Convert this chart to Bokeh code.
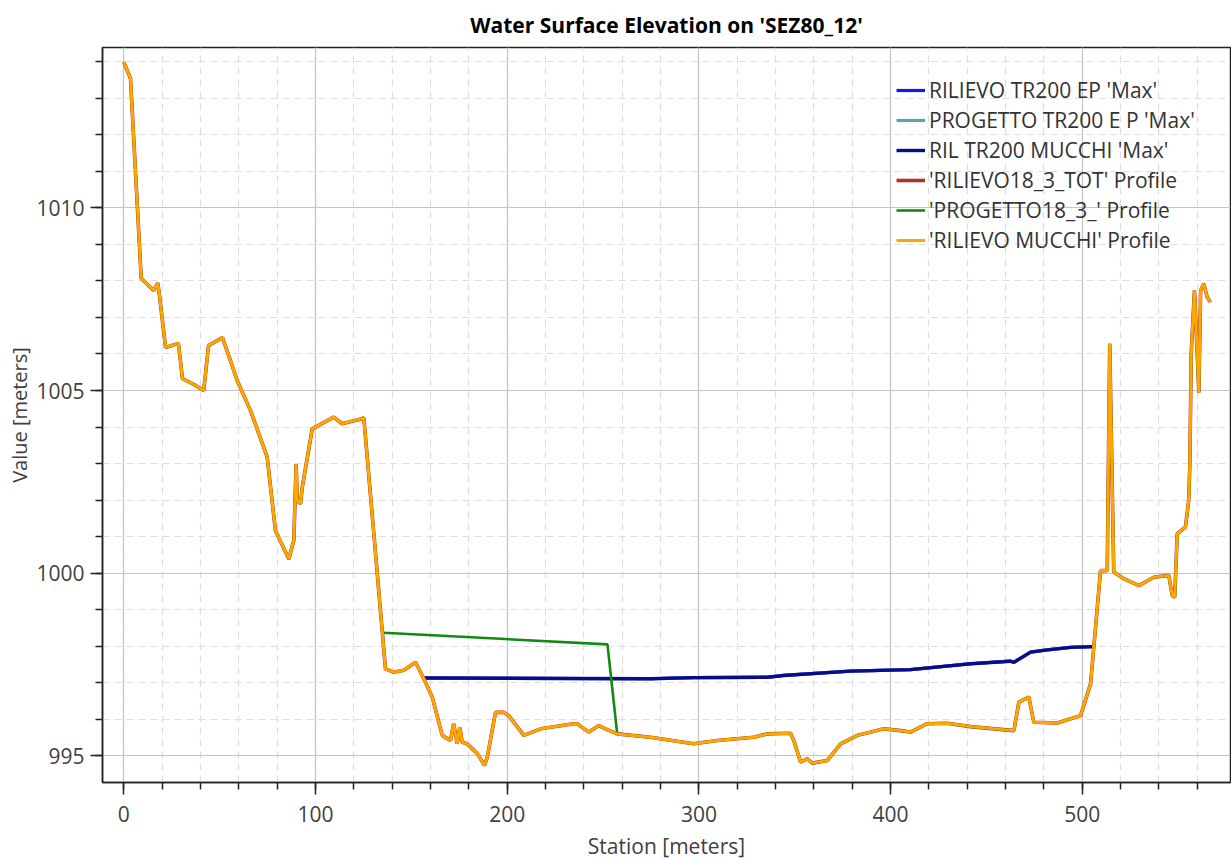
from bokeh.plotting import figure
from bokeh.models import (Range1d, SingleIntervalTicker, Legend, LegendItem, Title)
from bokeh.embed import file_html
from bokeh.resources import INLINE

# Ground profile surveyed at section SEZ80_12 (station m, elevation m)
ground_station = [0.0, 3.5, 9.1, 15.6, 17.7, 18.3, 21.8, 28.5, 30.6, 37.4,
                  41.7, 44.2, 51.5, 59.2, 66.1, 74.8, 79.1, 86.1, 88.7, 89.9,
                  90.5, 92.2, 93.1, 98.3, 109.5, 113.9, 124.4, 125.2, 134.8, 136.5,
                  140.8, 146.1, 152.2, 156.5, 160.9, 166.1, 170.4, 172.1, 173.9, 175.3,
                  176.5, 179.1, 184.4, 188.2, 189.6, 193.9, 198.2, 200.8, 208.7, 217.4,
                  234.7, 236.5, 242.6, 247.8, 251.3, 257.4, 274.7, 297.3, 309.5, 328.6,
                  335.6, 347.8, 349.5, 353.0, 356.5, 359.1, 366.9, 373.9, 382.6, 396.5,
                  405.2, 410.4, 419.1, 429.5, 441.7, 464.3, 466.9, 472.1, 474.7, 486.9,
                  499.1, 504.3, 509.5, 513.0, 514.3, 516.4, 521.6, 529.5, 537.3, 545.1,
                  546.9, 548.2, 549.5, 553.8, 555.5, 556.1, 556.8, 558.5, 560.8, 561.7,
                  563.4, 565.1, 566.8]
ground_elev = [1013.99, 1013.54, 1008.07, 1007.74, 1007.94, 1007.74, 1006.18, 1006.29, 1005.33, 1005.14,
               1005.00, 1006.23, 1006.45, 1005.27, 1004.45, 1003.18, 1001.17, 1000.39, 1000.90, 1002.99,
               1001.99, 1001.90, 1002.35, 1003.95, 1004.27, 1004.09, 1004.23, 1004.26, 998.43, 997.38,
               997.29, 997.34, 997.56, 997.11, 996.61, 995.56, 995.42, 995.88, 995.33, 995.78,
               995.37, 995.33, 995.06, 994.74, 994.96, 996.19, 996.19, 996.10, 995.56, 995.74,
               995.88, 995.88, 995.65, 995.83, 995.74, 995.60, 995.51, 995.33, 995.42, 995.51,
               995.60, 995.62, 995.42, 994.83, 994.92, 994.80, 994.87, 995.33, 995.56, 995.74,
               995.69, 995.65, 995.88, 995.89, 995.80, 995.69, 996.47, 996.61, 995.92, 995.90,
               996.10, 996.97, 1000.07, 1000.07, 1006.28, 1000.03, 999.85, 999.66, 999.89, 999.94,
               999.39, 999.34, 1001.08, 1001.26, 1001.99, 1002.99, 1006.01, 1007.74, 1004.95, 1007.74,
               1007.92, 1007.56, 1007.42]

# Design profile: differs from the survey only between the bank crest and the channel toe
design_from_station = 134.8
design_to_station = 257.4
design_fill_station = [135.6, 252.3]
design_fill_elev = [998.37, 998.05]

# Maximum water surface, TR200 event (the three runs coincide at this section)
ws_station = [156.5, 274.7, 297.3, 335.6, 344.3, 379.0, 410.4, 441.7, 462.5, 464.3,
              473.0, 481.7, 493.9, 505.2]
ws_elev = [997.13, 997.11, 997.14, 997.15, 997.20, 997.32, 997.36, 997.52, 997.59, 997.56,
           997.84, 997.90, 997.97, 997.99]

series_labels = ["RILIEVO TR200 EP 'Max'", "PROGETTO TR200 E P 'Max'", "RIL TR200 MUCCHI 'Max'",
                 "'RILIEVO18_3_TOT' Profile", "'PROGETTO18_3_' Profile", "'RILIEVO MUCCHI' Profile"]
series_colors = ["#1414F5", "#5FA3A3", "#0A0A8C", "#B0302E", "#118A11", "#FFA500"]

# Build the design profile by splicing the fill into the surveyed ground
design_station, design_elev = [], []
for s, z in zip(ground_station, ground_elev):
    if s <= design_from_station:
        design_station.append(s)
        design_elev.append(z)
design_station += design_fill_station
design_elev += design_fill_elev
for s, z in zip(ground_station, ground_elev):
    if s >= design_to_station:
        design_station.append(s)
        design_elev.append(z)

FONT = "Open Sans"
TXT = "#404040"

p = figure(width=1231, height=859, frame_width=1128, frame_height=735,
           min_border_left=102, min_border_right=1, min_border_top=47, min_border_bottom=77,
           output_backend="svg", toolbar_location=None,
           x_range=Range1d(-11.1, 577.3), y_range=Range1d(994.27, 1014.39))
p.background_fill_color = "white"
p.border_fill_color = "white"
p.outline_line_color = "#222222"
p.outline_line_width = 1.5

title = Title(text="Water Surface Elevation on 'SEZ80_12'", align="center",
              text_font=FONT, text_font_size="21px", text_font_style="bold",
              text_color="black", offset=0, standoff=17)
p.add_layout(title, "above")

p.xaxis.ticker = SingleIntervalTicker(interval=100, num_minor_ticks=5)
p.yaxis.ticker = SingleIntervalTicker(interval=5, num_minor_ticks=5)
for ax in (p.xaxis, p.yaxis):
    ax.axis_line_color = "#222222"
    ax.axis_line_width = 1.5
    ax.major_tick_line_color = "#222222"
    ax.major_tick_line_width = 1.5
    ax.minor_tick_line_color = "#222222"
    ax.minor_tick_line_width = 1.5
    ax.major_tick_out = 12
    ax.major_tick_in = 0
    ax.minor_tick_out = 7
    ax.minor_tick_in = 0
    ax.major_label_text_font = FONT
    ax.major_label_text_font_size = "21px"
    ax.major_label_text_color = TXT
    ax.axis_label_text_font = FONT
    ax.axis_label_text_font_size = "21px"
    ax.axis_label_text_font_style = "normal"
    ax.axis_label_text_color = TXT
p.xaxis.axis_label = "Station [meters]"
p.yaxis.axis_label = "Value [meters]"
p.yaxis.axis_label_text_font_size = "20px"
p.xaxis.major_label_standoff = 11
p.yaxis.major_label_standoff = 6
p.xaxis.axis_label_standoff = 7
p.yaxis.axis_label_standoff = 0

for g in (p.xgrid, p.ygrid):
    g.grid_line_color = "#c4c4c4"
    g.grid_line_width = 1.2
    g.minor_grid_line_color = "#dedede"
    g.minor_grid_line_width = 1.2
    g.minor_grid_line_dash = "7 5"

# Series drawn back to front: water surfaces, then ground profiles
r_ep = p.line(ws_station, ws_elev, line_color=series_colors[0], line_width=3.2)
r_pr = p.line(ws_station, ws_elev, line_color=series_colors[1], line_width=3.2)
r_ws = p.line(ws_station, ws_elev, line_color=series_colors[2], line_width=3.4)
r_tot = p.line(ground_station, ground_elev, line_color=series_colors[3], line_width=3.6)
r_des = p.line(design_station, design_elev, line_color=series_colors[4], line_width=2.6)
r_gr = p.line(ground_station, ground_elev, line_color=series_colors[5], line_width=3.0)

renderers = [r_ep, r_pr, r_ws, r_tot, r_des, r_gr]
legend = Legend(items=[LegendItem(label=l, renderers=[r]) for l, r in zip(series_labels, renderers)],
                location=(794, 528), padding=0, margin=0, spacing=2,
                glyph_width=29, glyph_height=20, label_height=20, label_standoff=4,
                label_text_font=FONT, label_text_font_size="21px", label_text_color="#333333",
                background_fill_alpha=0, border_line_color=None)
p.add_layout(legend, "center")

open("out.html", "w").write(file_html(p, INLINE))
